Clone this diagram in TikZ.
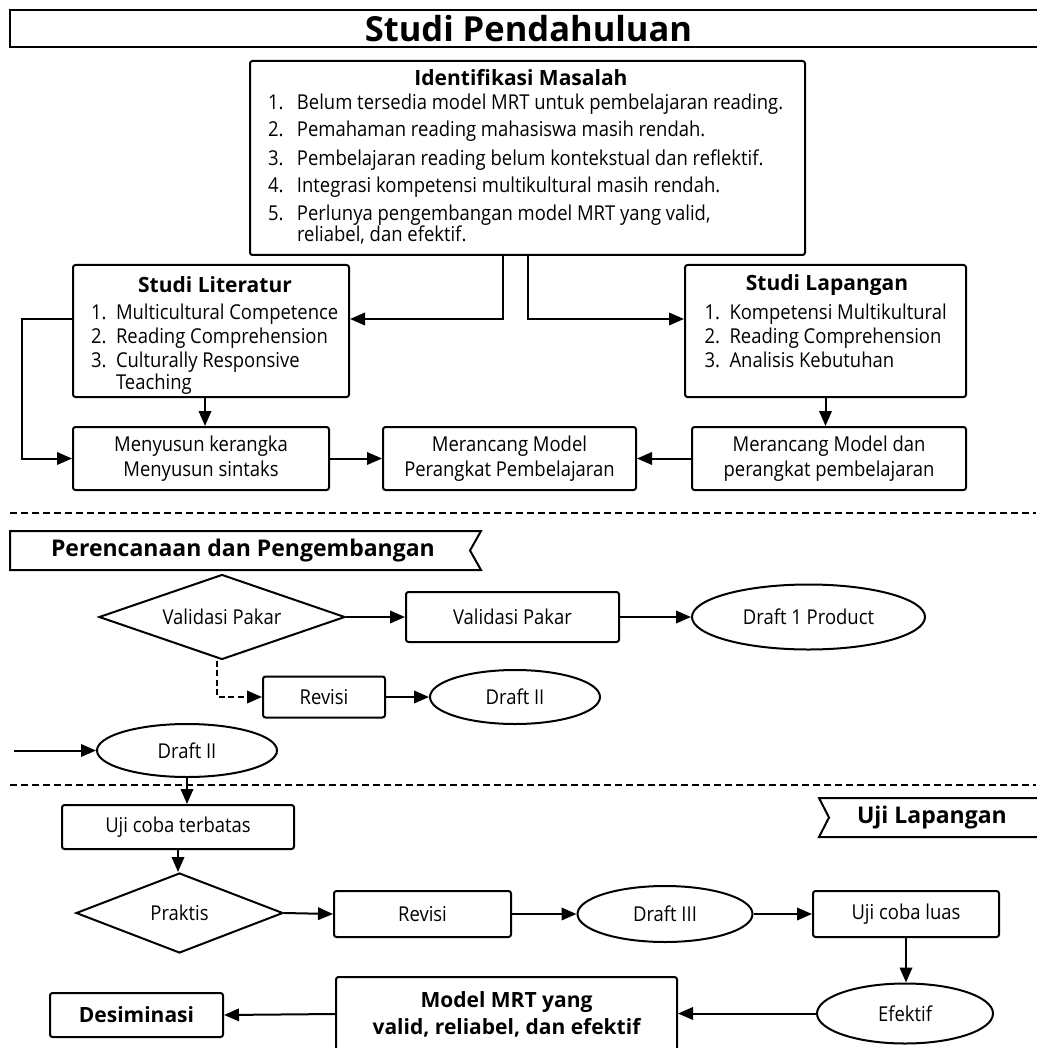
\documentclass[tikz,border=0pt]{standalone}
\usepackage{fontspec}
\setmainfont{Open Sans}[FakeStretch=0.9]
\newfontfamily\hdfam{Open Sans}
\usetikzlibrary{shapes.geometric,arrows.meta}
\newcommand{\txtsize}{\fontsize{20.5}{20.5}\selectfont}
\newcommand{\hdsize}{\hdfam\fontsize{21}{24}\selectfont\bfseries}
\newcommand{\bnsize}{\hdfam\fontsize{23}{27}\selectfont\bfseries}
\newcommand{\num}[1]{\makebox[29pt][l]{#1}}
\newcommand{\snum}[1]{\makebox[25pt][l]{#1}}
\begin{document}
\begin{tikzpicture}[x=1pt, y=-1pt, line width=2pt,
  box/.style={draw, rounded corners=2.5pt, inner sep=0pt, align=center, font=\txtsize},
  oval/.style={draw, ellipse, inner sep=0pt, font=\txtsize},
  dia/.style={draw, diamond, inner sep=0pt, font=\txtsize},
  lst/.style={anchor=north west, inner sep=0pt, align=left, font=\txtsize},
  hd/.style={inner sep=0pt, font=\hdsize},
  arr/.style={-{Triangle[length=15pt,width=12.5pt]}},
  sep/.style={line width=1.4pt, dash pattern=on 7pt off 4pt},
  sz/.style 2 args={minimum width=#1pt, minimum height=#2pt}]
\useasboundingbox[fill=white] (0,0) rectangle (1036,1048);
\node[draw, inner sep=0pt, sz={1037}{37}, font=\hdfam\fontsize{34.5}{38}\selectfont\bfseries] (title) at (528.5,28.5) {Studi Pendahuluan};

\node[box, sz={555}{194}] (idbox) at (527.5,158) {};
\node[hd] (idhead) at (521,78) {Identifikasi Masalah};
\node[lst] (idlist) at (267,92.5) {%
  \num{1.}Belum tersedia model MRT untuk pembelajaran reading.\\[7pt]
  \num{2.}Pemahaman reading mahasiswa masih rendah.\\[7pt]
  \num{3.}Pembelajaran reading belum kontekstual dan reflektif.\\[7pt]
  \num{4.}Integrasi kompetensi multikultural masih rendah.\\[7pt]
  \num{5.}Perlunya pengembangan model MRT yang valid,\\[-0.5pt]
  \num{}reliabel, dan efektif.};

\node[box, sz={276}{132}] (lit) at (211,331) {};
\node[hd] (lithead) at (215,285) {Studi Literatur};
\node[lst] (litlist) at (90,302.5) {%
  \snum{1.}Multicultural Competence\\[3.5pt]
  \snum{2.}Reading Comprehension\\[3.5pt]
  \snum{3.}Culturally Responsive\\[1.5pt]
  \snum{}Teaching};

\node[box, sz={281}{132}] (lap) at (825.5,331) {};
\node[hd] (laphead) at (827,285) {Studi Lapangan};
\node[lst] (laplist) at (703.5,302.5) {%
  \snum{1.}Kompetensi Multikultural\\[3.5pt]
  \snum{2.}Reading Comprehension\\[3.5pt]
  \snum{3.}Analisis Kebutuhan};

\node[box, sz={256}{63}] (susun) at (201,458.5) {Menyusun kerangka\\[4.5pt]Menyusun sintaks};
\node[box, sz={253}{63}] (rancang) at (509.5,458.5) {Merancang Model\\[4.5pt]Perangkat Pembelajaran};
\node[box, sz={274}{63}] (rancangdan) at (829,458.5) {Merancang Model dan\\[4.5pt]perangkat pembelajaran};

\draw[arr] ([xshift=-25pt]idbox.south) |- ([yshift=12pt]lit.east);
\draw[arr] (idbox.south) |- ([yshift=12pt]lap.west);
\draw[arr] ([yshift=12pt]lit.west) -- ++(-50,0) |- (susun.west);
\draw[arr] ([xshift=-6pt]lit.south) -- ([xshift=-6pt]lit.south |- susun.north);
\draw[arr] (lap.south) -- (lap.south |- rancangdan.north);
\draw[arr] (susun.east) -- (rancang.west);
\draw[arr] (rancangdan.west) -- (rancang.east);

\draw[sep] (10,513) -- (1036,513);

\draw (10,531) -- (481,531) -- (470,550.5) -- (481,570) -- (10,570) -- cycle;
\node[anchor=west, inner sep=0pt, font=\bnsize] (plan) at (50,550.5) {Perencanaan dan Pengembangan};

\node[dia, aspect=2.9, sz={246}{85}] (vp) at (222,617) {Validasi Pakar};
\node[box, sz={213}{50}] (vpbox) at (512.5,617) {Validasi Pakar};
\node[oval, sz={233}{65}] (d1) at (808.5,617) {Draft 1 Product};
\node[box, sz={122}{41}] (rev1) at (324,697) {Revisi};
\node[oval, sz={170}{54}] (d2a) at (515,697) {Draft II};
\node[oval, sz={180}{53}] (d2b) at (187,750.5) {Draft II};
\coordinate (entry) at (14,750.5);

\draw[arr] (vp.east) -- (vpbox.west);
\draw[arr] (vpbox.east) -- (d1.west);
\draw[arr, dash pattern=on 6pt off 3.5pt] ([xshift=-5pt]vp.south) |- (rev1.west);
\draw[arr] (rev1.east) -- (d2a.west);
\draw[arr] (entry) -- (d2b.west);

\draw[sep] (10,785) -- (1036,785);

\draw (1040,798) -- (819,798) -- (829,817.5) -- (819,837) -- (1040,837);
\node[anchor=west, inner sep=0pt, font=\bnsize] (uji) at (856,817.5) {Uji Lapangan};

\node[box, sz={232}{44}] (terbatas) at (178,827) {Uji coba terbatas};
\node[dia, aspect=2.6, sz={207}{80}] (praktis) at (179.5,913) {Praktis};
\node[box, sz={177}{46}] (rev2) at (422.5,914) {Revisi};
\node[oval, sz={175}{56}] (d3) at (665,914) {Draft III};
\node[box, sz={186}{46}] (luas) at (906,914) {Uji coba luas};
\node[oval, sz={176}{60}] (efektif) at (905,1013.5) {Efektif};
\node[box, sz={341}{74}, font=\hdsize] (model) at (506.5,1014) {Model MRT yang\\[3pt]valid, reliabel, dan efektif};
\node[box, sz={173}{44}, font=\hdsize] (desim) at (136.5,1015) {Desiminasi};

\draw[arr] (d2b.south) -- (d2b.south |- terbatas.north);
\draw[arr] (terbatas.south) -- (terbatas.south |- praktis.north);
\draw[arr] (praktis.east) -- (rev2.west);
\draw[arr] (rev2.east) -- (d3.west);
\draw[arr] (d3.east) -- (luas.west);
\draw[arr] (luas.south) -- (luas.south |- efektif.north);
\draw[arr] (efektif.west) -- (efektif.west -| model.east);
\draw[arr] (model.west) -- (desim.east);
\end{tikzpicture}
\end{document}
